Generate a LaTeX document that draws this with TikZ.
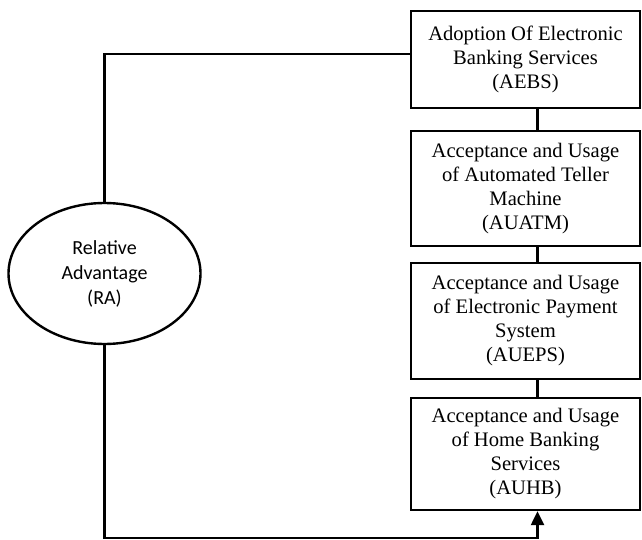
\documentclass[tikz,border=0pt]{standalone}
\usepackage{fontspec}
\setmainfont{Liberation Serif}
\newfontfamily\calibri{Carlito}
\usetikzlibrary{shapes.geometric, arrows.meta}

\begin{document}
\begin{tikzpicture}[x=1pt, y=-1pt, align=center, line width=2.4pt,
  box/.style={draw, minimum width=229pt, inner sep=0pt, font=\fontsize{20.6}{24}\selectfont},
  oval/.style={draw, ellipse, minimum width=192pt, minimum height=141pt, inner sep=0pt, font=\calibri\fontsize{20}{25}\selectfont}]

\useasboundingbox (0, 0) rectangle (642, 540);

\node[box, minimum height=97pt] (aebs) at (525.5, 59.5) {Adoption Of Electronic\\Banking Services\\(AEBS)};
\node[box, minimum height=115pt] (auatm) at (525.5, 188.5) {Acceptance and Usage\\of Automated Teller\\Machine\\(AUATM)};
\node[box, minimum height=116pt] (aueps) at (525.5, 321) {Acceptance and Usage\\of Electronic Payment\\System\\(AUEPS)};
\node[box, minimum height=112pt] (auhb) at (525.5, 454) {Acceptance and Usage\\of Home Banking\\Services\\(AUHB)};
\node[oval] (ra) at (104.5, 273.5) {Relative\\Advantage\\(RA)};

\coordinate (spine) at (537.5, 0);
\coordinate (corner) at (104.5, 538);

\draw (aebs.south -| spine) -- (auatm.north -| spine);
\draw (auatm.south -| spine) -- (aueps.north -| spine);
\draw (aueps.south -| spine) -- (auhb.north -| spine);
\draw (ra.north) |- ([yshift=5.5pt]aebs.west);
\draw[-{Triangle[width=13pt, length=14pt]}] (ra.south) -- (corner) -| (auhb.south -| spine);

\end{tikzpicture}
\end{document}
